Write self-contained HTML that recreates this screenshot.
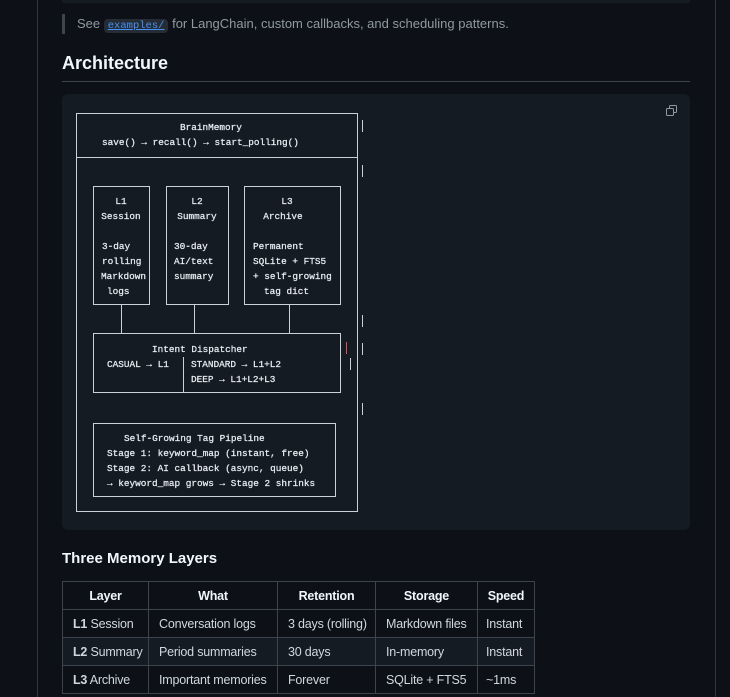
<!DOCTYPE html>
<html><head><meta charset="utf-8"><style>
html,body{margin:0;padding:0;background:#0d1117;width:730px;height:697px;overflow:hidden;font-family:"Liberation Sans",sans-serif;color:#d1d7e0}
.a{position:absolute}
td,th{border:1px solid #3d444d;padding:0 0 0 10px;height:27px;font-size:12.5px;white-space:nowrap;overflow:hidden;letter-spacing:-0.2px}
th{font-weight:bold;text-align:center;color:#f0f6fc;padding:0}
table{border-collapse:collapse;position:absolute;left:62px;top:581px;table-layout:fixed;width:472px}
</style></head><body>
<div class="a" style="left:37px;top:0;width:1px;height:697px;background:#30363d"></div>
<div class="a" style="left:715px;top:0;width:1px;height:697px;background:#30363d"></div>
<div class="a" style="left:62px;top:0;width:628px;height:3px;background:#151b23"></div>
<div class="a" style="left:62px;top:14px;width:3px;height:20px;background:#3d444d"></div>
<div class="a" style="left:77px;top:16px;font-size:13px;color:#9198a1">See <span style="background:#262c36;border-radius:4px;padding:1px 4px;font-family:'Liberation Mono',monospace;font-size:10.5px;color:#4493f8;text-decoration:underline">examples/</span> for LangChain, custom callbacks, and scheduling patterns.</div>
<div class="a" style="left:62px;top:53px;font-size:18px;font-weight:bold;color:#f0f6fc">Architecture</div>
<div class="a" style="left:62px;top:81px;width:628px;height:1px;background:#3d444d"></div>
<div class="a" style="left:62px;top:94px;width:628px;height:436px;background:#151b23;border-radius:6px"></div>
<svg class="a" style="left:0;top:0" width="730" height="697">
<g stroke="#c9d1d9" stroke-width="1" fill="none">
<rect x="76.5" y="113.5" width="281" height="398"/>
<line x1="76" y1="157.5" x2="358" y2="157.5"/>
<line x1="362.5" y1="120" x2="362.5" y2="132"/>
<line x1="362.5" y1="165" x2="362.5" y2="177"/>
<line x1="362.5" y1="315" x2="362.5" y2="327"/>
<line x1="362.5" y1="343" x2="362.5" y2="355"/>
<line x1="362.5" y1="403" x2="362.5" y2="415"/>
<line x1="350.5" y1="358" x2="350.5" y2="370"/>
<rect x="93.5" y="186.5" width="56" height="118"/>
<rect x="166.5" y="186.5" width="62" height="118"/>
<rect x="244.5" y="186.5" width="96" height="118"/>
<line x1="121.5" y1="304" x2="121.5" y2="333"/>
<line x1="194.5" y1="304" x2="194.5" y2="333"/>
<line x1="289.5" y1="304" x2="289.5" y2="333"/>
<rect x="93.5" y="333.5" width="247" height="59"/>
<line x1="183.5" y1="357" x2="183.5" y2="392"/>
<rect x="93.5" y="423.5" width="242" height="73"/>
</g>
<line x1="346.5" y1="342" x2="346.5" y2="354" stroke="#e05050"/>
<g fill="#e6edf3" font-family="'Liberation Mono',monospace" font-size="9.4" stroke="#e6edf3" stroke-width="0.25">
<text x="211" y="130" text-anchor="middle">BrainMemory</text>
<text x="102" y="145">save() → recall() → start_polling()</text>
<text x="121" y="204" text-anchor="middle">L1</text><text x="121" y="219" text-anchor="middle">Session</text>
<text x="102" y="249">3-day</text><text x="102" y="264">rolling</text><text x="101" y="279">Markdown</text><text x="107" y="294">logs</text>
<text x="197" y="204" text-anchor="middle">L2</text><text x="197" y="219" text-anchor="middle">Summary</text>
<text x="174" y="249">30-day</text><text x="174" y="264">AI/text</text><text x="174" y="279">summary</text>
<text x="287" y="204" text-anchor="middle">L3</text><text x="283" y="219" text-anchor="middle">Archive</text>
<text x="253" y="249">Permanent</text><text x="253" y="264">SQLite + FTS5</text><text x="253" y="279">+ self-growing</text><text x="264" y="294">tag dict</text>
<text x="152" y="352">Intent Dispatcher</text>
<text x="107" y="367">CASUAL → L1</text>
<text x="191" y="367">STANDARD → L1+L2</text>
<text x="191" y="382">DEEP → L1+L2+L3</text>
<text x="124" y="441">Self-Growing Tag Pipeline</text>
<text x="107" y="456">Stage 1: keyword_map (instant, free)</text>
<text x="107" y="471">Stage 2: AI callback (async, queue)</text>
<text x="107" y="486">→ keyword_map grows → Stage 2 shrinks</text>
</g>
<g stroke="#9198a1" fill="none" stroke-width="1">
<rect x="669.5" y="105.5" width="7" height="7" rx="1"/>
<rect x="666.5" y="108.5" width="7" height="7" rx="1" fill="#151b23"/>
</g>
</svg>
<div class="a" style="left:62px;top:550px;font-size:15px;font-weight:bold;color:#f0f6fc">Three Memory Layers</div>
<table>
<colgroup><col style="width:86px"><col style="width:129px"><col style="width:98px"><col style="width:102px"><col style="width:57px"></colgroup>
<tr><th>Layer</th><th>What</th><th>Retention</th><th>Storage</th><th>Speed</th></tr>
<tr><td><b>L1</b> Session</td><td>Conversation logs</td><td>3 days (rolling)</td><td>Markdown files</td><td style="padding-left:8px">Instant</td></tr>
<tr style="background:#151b23"><td><b>L2</b> Summary</td><td>Period summaries</td><td>30 days</td><td>In-memory</td><td style="padding-left:8px">Instant</td></tr>
<tr><td><b>L3</b> Archive</td><td>Important memories</td><td>Forever</td><td>SQLite + FTS5</td><td style="padding-left:8px">~1ms</td></tr>
</table>
</body></html>
